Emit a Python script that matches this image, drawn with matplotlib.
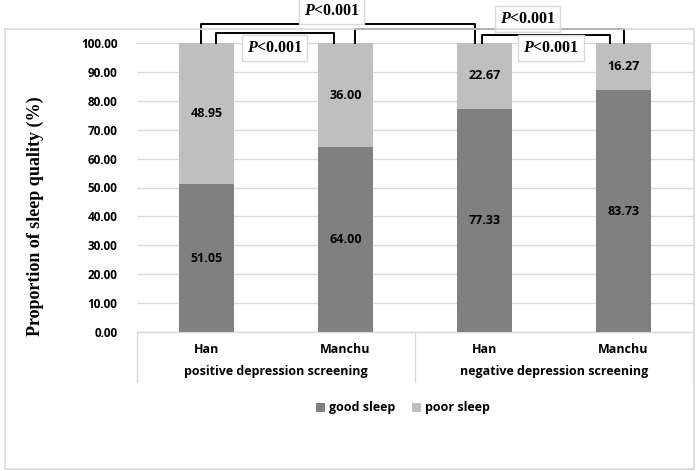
import matplotlib
matplotlib.use("Agg")
import matplotlib.pyplot as plt
import matplotlib.transforms as mtransforms
from matplotlib.patches import Rectangle
import numpy as np

# data
ethnic = ["Han", "Manchu", "Han", "Manchu"]
groups = ["positive depression screening", "negative depression screening"]
good_sleep = [51.05, 64.00, 77.33, 83.73]
poor_sleep = [48.95, 36.00, 22.67, 16.27]
yticks = [0, 10, 20, 30, 40, 50, 60, 70, 80, 90, 100]

# significance brackets: (left x, right x, top y, label x, label y)
brackets = [
    (-0.04, 1.93, 106.6, 0.90, 111.0),
    (0.07, 0.92, 103.5, 0.49, 98.3),
    (1.07, 3.00, 104.8, 2.31, 108.3),
    (1.98, 2.90, 102.8, 2.48, 98.3),
]

plt.rcParams["mathtext.fontset"] = "custom"
plt.rcParams["mathtext.it"] = "Liberation Serif:italic:bold"
plt.rcParams["mathtext.rm"] = "Liberation Serif:bold"

GOOD = "#808080"
POOR = "#bfbfbf"
GRID = "#d9d9d9"
W, H = 700, 471

fig = plt.figure(figsize=(7, 4.71), dpi=100)
ax = fig.add_axes([137 / W, (H - 332) / H, (693 - 137) / W, (332 - 43) / H])

# outer frame
fig.patches.append(Rectangle((5 / W, (H - 469) / H), 689 / W, 440 / H,
                             transform=fig.transFigure, fill=False,
                             edgecolor=GRID, lw=1.2))

x = np.arange(len(ethnic))
ax.bar(x, good_sleep, width=0.4, color=GOOD, label="good sleep", zorder=3)
ax.bar(x, poor_sleep, width=0.4, bottom=good_sleep, color=POOR,
       label="poor sleep", zorder=3)

for xi, g, p in zip(x, good_sleep, poor_sleep):
    ax.text(xi, g / 2, f"{g:.2f}", ha="center", va="center", fontsize=9,
            fontweight="bold", family="Open Sans", zorder=4)
    ax.text(xi, g + p / 2, f"{p:.2f}", ha="center", va="center", fontsize=9,
            fontweight="bold", family="Open Sans", zorder=4)

ax.set_xlim(-0.5, 3.5)
ax.set_ylim(0, 100)
ax.set_yticks(yticks)
ax.set_yticklabels([f"{v:.2f}" for v in yticks], fontsize=8.5,
                   fontweight="bold", family="Open Sans")
ax.tick_params(axis="y", length=0, pad=14)
ax.set_xticks([])
for s in ax.spines.values():
    s.set_visible(False)
ax.yaxis.grid(True, color=GRID, lw=1, zorder=0)
ax.set_axisbelow(True)

ax.set_ylabel("Proportion of sleep quality (%)", family="Liberation Serif",
              fontweight="bold", fontsize=13, labelpad=10)
ax.yaxis.set_label_coords(-0.168, 0.4)

# category axis drawn below
trans = mtransforms.blended_transform_factory(ax.transData, ax.transAxes)
ax.plot([-0.5, 3.5], [0, 0], color=GRID, lw=1, transform=trans, clip_on=False)
for xv in [-0.5, 1.5, 3.5]:
    ax.plot([xv, xv], [0, -0.173], color=GRID, lw=1, transform=trans,
            clip_on=False)
for xi, name in zip(x, ethnic):
    ax.text(xi, -0.059, name, transform=trans, ha="center", va="center",
            fontsize=9, fontweight="bold", family="Open Sans")
for gi, name in enumerate(groups):
    ax.text(gi * 2 + 0.5, -0.138, name, transform=trans, ha="center",
            va="center", fontsize=9, fontweight="bold", family="Open Sans")

# brackets
for x0, x1, top, lx, ly in brackets:
    ax.plot([x0, x0, x1, x1], [100, top, top, 100], color="black", lw=1.4,
            clip_on=False, zorder=5)
    ax.text(lx, ly, "$P$<0.001", ha="center", va="center", fontsize=11.5,
            family="Liberation Serif", fontweight="bold", clip_on=False,
            zorder=6,
            bbox=dict(boxstyle="square,pad=0.3", facecolor="white",
                      edgecolor=GRID, lw=1))

fig.legend(loc="center", bbox_to_anchor=(403 / W, 1 - 408 / H), ncol=2,
           frameon=False, handlelength=0.7, handleheight=0.7,
           columnspacing=1.4, handletextpad=0.3,
           prop={"family": "Open Sans", "weight": "bold", "size": 9})

fig.savefig("out.png", dpi=100)
